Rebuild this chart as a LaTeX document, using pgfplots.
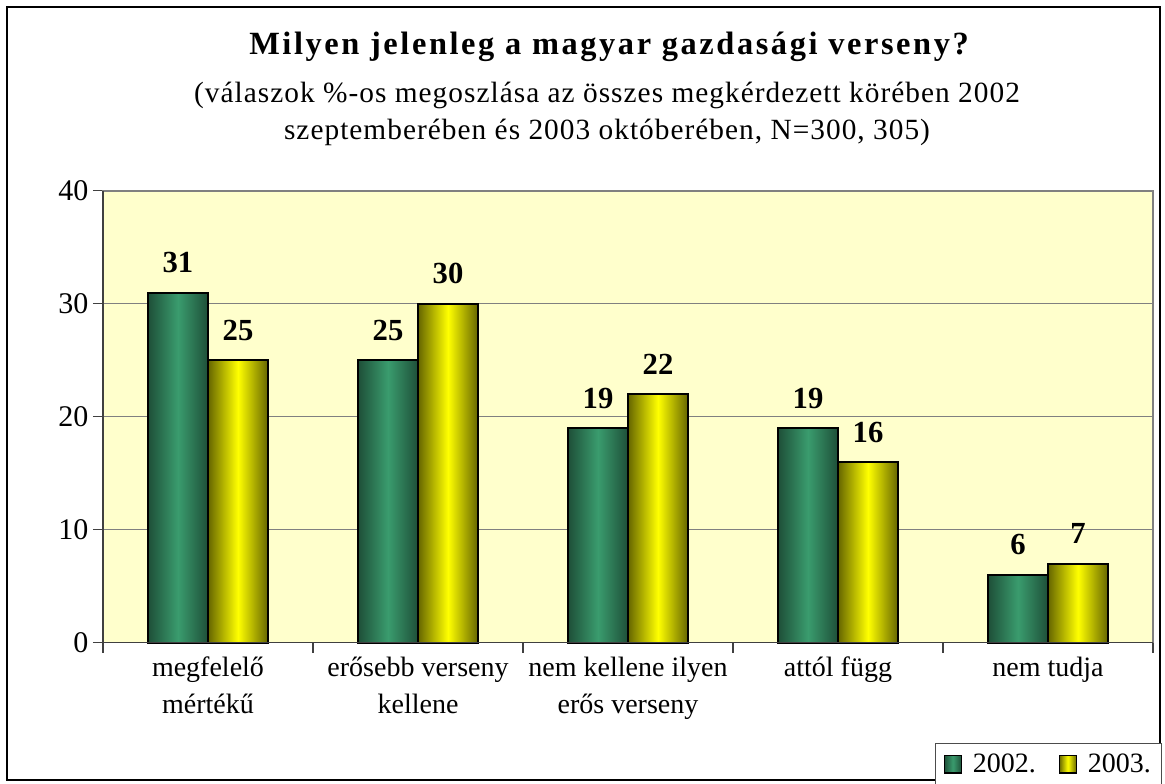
\documentclass[border=0pt]{standalone}
\usepackage{pgfplots}
\pgfplotsset{compat=1.18}
\usepackage{fontspec}
\setmainfont{Liberation Serif}
\newfontfamily\titlefont[LetterSpace=8]{Liberation Serif}
\newfontfamily\subfont[LetterSpace=3.5]{Liberation Serif}
\definecolor{gdark}{HTML}{1E4F38}
\definecolor{gmid}{HTML}{3A9C6E}
\definecolor{ydark}{HTML}{666600}
\definecolor{ymid}{HTML}{FFFF00}
\definecolor{bgyel}{HTML}{FFFFCC}
\definecolor{gridc}{HTML}{808080}
\pgfplotsset{
  gbar/.style={draw=black, line width=1.5pt, left color=gdark, right color=gdark, middle color=gmid},
  ybr/.style={draw=black, line width=1.5pt, left color=ydark, right color=ydark, middle color=ymid},
}
\begin{document}
\begin{tikzpicture}[x=0.75pt,y=0.75pt]
\useasboundingbox (-103,-141.3) rectangle (1062,642.7);
\draw[line width=1.5pt, black] (-96,-137.3) rectangle (1057,635.7);
\node[font=\titlefont\bfseries\fontsize{24.3}{28}\selectfont] at (506,596) {Milyen jelenleg a magyar gazdasági verseny?};
\node[font=\subfont\fontsize{22}{26}\selectfont] at (504,547) {(válaszok \%-os megoszlása az összes megkérdezett körében 2002};
\node[font=\subfont\fontsize{22}{26}\selectfont] at (504,510) {szeptemberében és 2003 októberében, N=300, 305)};
\begin{axis}[
  at={(0,0)}, anchor=south west,
  scale only axis,
  width=787.5pt, height=338.8pt,
  ybar, bar width=45pt,
  ymin=0, ymax=40, ytick={0,10,20,30,40},
  xmin=-0.5, xmax=4.5,
  xtick={-0.5,0.5,1.5,2.5,3.5,4.5}, xticklabels={},
  extra x ticks={0,1,2,3,4},
  extra x tick labels={megfelelő\\mértékű, erősebb verseny\\kellene, nem kellene ilyen\\erős verseny, attól függ, nem tudja},
  extra x tick style={major tick length=0pt, grid=none, tick label style={align=center, font=\fontsize{21}{28}\selectfont, yshift=-7pt}},
  xtick pos=bottom, ytick pos=left, tick align=outside,
  major tick length=7.5pt,
  tick style={draw=black!75, line width=0.8pt},
  ymajorgrids, grid style={draw=gridc, line width=0.75pt},
  axis line style={draw=gridc, line width=1pt},
  axis background/.style={fill=bgyel},
  /pgf/number format/assume math mode=true,
  yticklabel style={font=\fontsize{22.5}{26}\selectfont},
  nodes near coords,
  every node near coord/.append style={font=\bfseries\fontsize{23}{27}\selectfont, inner sep=0pt, yshift=14pt, black},
  legend columns=2,
  legend style={at={(0.7924,-0.222)}, anchor=north west, draw=black!70, line width=0.8pt, font=\fontsize{21}{25}\selectfont, inner xsep=6pt, inner ysep=6pt,
    /tikz/every odd column/.append style={column sep=6pt},
    /tikz/every even column/.append style={column sep=15pt}},
  legend image code/.code={\draw[#1, draw=black, line width=1pt] (0pt,-6.5pt) rectangle (13pt,6.5pt);},
  clip=false,
]
\addplot[gbar, bar shift=-22.5pt] coordinates {(0,31)};
\addplot[ybr, bar shift=22.5pt] coordinates {(0,25)};
\addplot[gbar, bar shift=-22.5pt, forget plot] coordinates {(1,25)};
\addplot[ybr, bar shift=22.5pt, forget plot] coordinates {(1,30)};
\addplot[gbar, bar shift=-22.5pt, forget plot] coordinates {(2,19)};
\addplot[ybr, bar shift=22.5pt, forget plot] coordinates {(2,22)};
\addplot[gbar, bar shift=-22.5pt, forget plot] coordinates {(3,19)};
\addplot[ybr, bar shift=22.5pt, forget plot] coordinates {(3,16)};
\addplot[gbar, bar shift=-22.5pt, forget plot] coordinates {(4,6)};
\addplot[ybr, bar shift=22.5pt, forget plot] coordinates {(4,7)};
\legend{2002., 2003.}
\draw[black!75, line width=1.2pt] (rel axis cs:0,0) -- (rel axis cs:1,0);
\draw[black!75, line width=1.2pt] (rel axis cs:0,0) -- (rel axis cs:0,1);
\end{axis}
\end{tikzpicture}
\end{document}
